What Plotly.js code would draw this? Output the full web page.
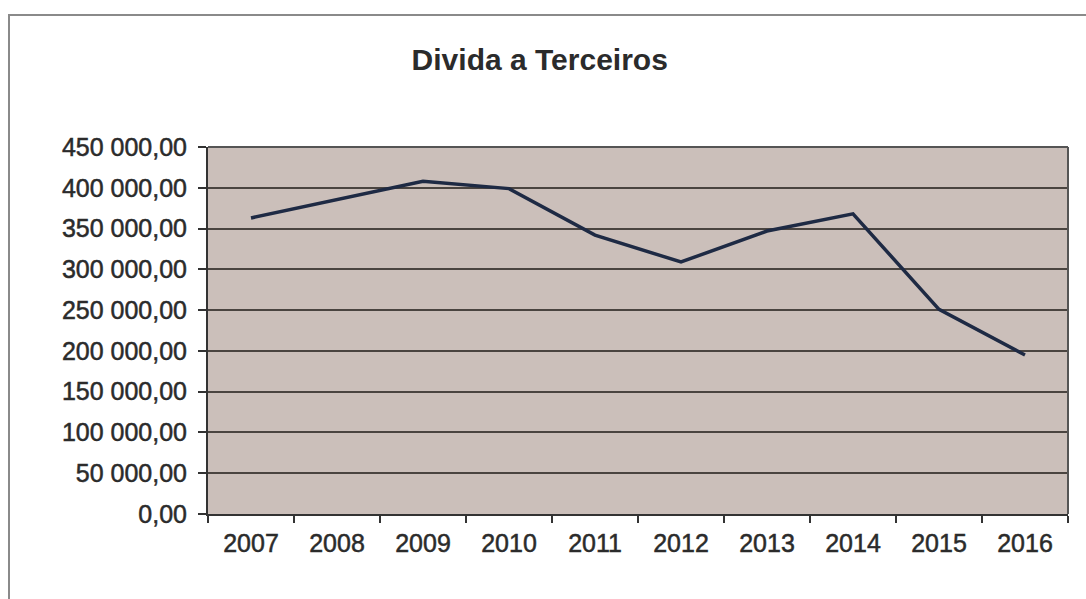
<!DOCTYPE html>
<html>
<head>
<meta charset="utf-8">
<script src="https://cdn.plot.ly/plotly-3.0.1.min.js"></script>
<style>
  html, body { margin: 0; padding: 0; background: #ffffff; }
  #wrap { position: relative; width: 1086px; height: 599px; overflow: hidden; }
  #frame { position: absolute; left: 8px; top: 14px; width: 1100px; height: 620px;
           border-top: 2px solid #8a8a8a; border-left: 2px solid #8a8a8a; pointer-events: none; }
  #chart { position: absolute; left: 0; top: 0; width: 1086px; height: 599px; }
  #chart .xtick text, #chart .ytick text { stroke: #2b2b2b; stroke-width: 0.5px; }
</style>
</head>
<body>
<div id="wrap">
  <div id="chart"></div>
  <div id="frame"></div>
</div>
<script>
const years = ["2007", "2008", "2009", "2010", "2011", "2012", "2013", "2014", "2015", "2016"];
const dividaTerceiros = [363000, 386000, 408000, 399000, 342000, 309000, 347000, 368000, 251000, 195000];
const yTickValues = [0, 50000, 100000, 150000, 200000, 250000, 300000, 350000, 400000, 450000];
const chartTitle = "Divida a Terceiros";

const trace = {
  type: "scatter",
  mode: "lines",
  x: years,
  y: dividaTerceiros,
  line: { color: "#1e2a44", width: 3.5 },
  hoverinfo: "x+y"
};

const layout = {
  width: 1086,
  height: 599,
  separators: ", ",
  paper_bgcolor: "rgba(0,0,0,0)",
  plot_bgcolor: "#cbbfba",
  margin: { l: 208, r: 18, t: 147, b: 85 },
  showlegend: false,
  title: {
    text: "<b>" + chartTitle + "</b>",
    font: { family: "Liberation Sans, Arial, sans-serif", size: 30, color: "#2b2b2b" },
    x: 0.497, xanchor: "center",
    y: 0.9, yanchor: "middle", yref: "container"
  },
  xaxis: {
    type: "category",
    range: [-0.5, years.length - 0.5],
    tickson: "boundaries",
    ticks: "outside",
    ticklen: 7,
    tickwidth: 2,
    tickcolor: "#333333",
    showgrid: false,
    showline: true,
    linecolor: "#333333",
    linewidth: 2,
    mirror: false,
    tickfont: { family: "Liberation Sans, Arial, sans-serif", size: 25, color: "#2b2b2b" },
    ticklabelstandoff: 6,
    fixedrange: true
  },
  yaxis: {
    range: [0, 450000],
    tickvals: yTickValues,
    tickformat: ",.2f",
    ticks: "outside",
    ticklen: 8,
    tickwidth: 2,
    tickcolor: "#333333",
    showgrid: true,
    gridcolor: "#4a4440",
    gridwidth: 2,
    zeroline: false,
    showline: true,
    linecolor: "#333333",
    linewidth: 2,
    tickfont: { family: "Liberation Sans, Arial, sans-serif", size: 25, color: "#2b2b2b" },
    ticklabelstandoff: 6,
    fixedrange: true
  },
  shapes: [
    { type: "line", xref: "paper", yref: "paper", x0: 1, x1: 1, y0: 0, y1: 1,
      line: { color: "#555555", width: 2 } },
    { type: "line", xref: "paper", yref: "paper", x0: 0, x1: 1, y0: 1, y1: 1,
      line: { color: "#555555", width: 2 } }
  ]
};

Plotly.newPlot("chart", [trace], layout, { displayModeBar: false, staticPlot: true });
</script>
</body>
</html>
